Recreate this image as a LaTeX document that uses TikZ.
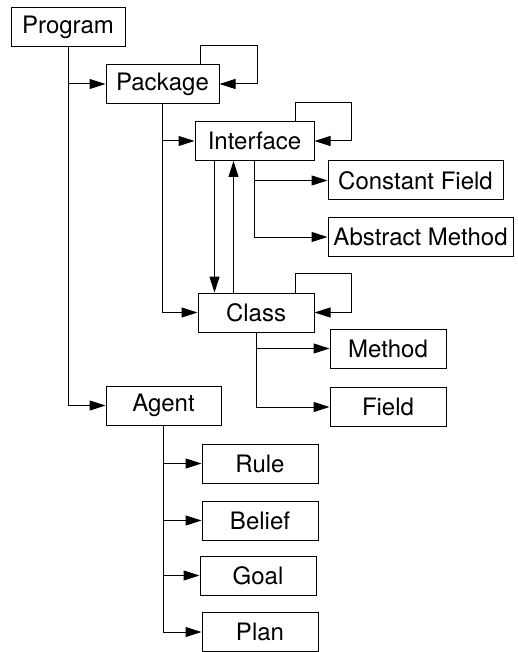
\documentclass[tikz,border=0pt]{standalone}
\usepackage{fontspec}
\setmainfont{TeX Gyre Heros}
\usetikzlibrary{arrows.meta}
\begin{document}
\begin{tikzpicture}[x=1pt,y=-1pt,
  box/.style={draw=black, line width=1pt, fill=white, inner sep=0pt,
    minimum height=39pt, font=\fontsize{24}{28}\selectfont},
  link/.style={draw=black, line width=1pt, -{Triangle[length=16pt,width=10pt]}}]
\useasboundingbox (0,0) rectangle (517,652);

% boxes
\node[box, minimum width=114pt] (prog)   at (68,27.5)   {Program};
\node[box, minimum width=113pt] (pkg)    at (162.5,84)  {Package};
\node[box, minimum width=119pt] (intf)   at (254.5,141) {Interface};
\node[box, minimum width=175pt] (cf)     at (415.5,180.5) {Constant Field};
\node[box, minimum width=185pt] (am)     at (420.5,237) {Abstract Method};
\node[box, minimum width=116pt] (cls)    at (256,312.5) {Class};
\node[box, minimum width=116pt] (meth)   at (388,348.5) {Method};
\node[box, minimum width=116pt] (fld)    at (388,407)   {Field};
\node[box, minimum width=115pt] (agent)  at (163.5,405.5) {Agent};
\node[box, minimum width=116pt] (rule)   at (260,463.5) {Rule};
\node[box, minimum width=116pt] (belief) at (260,520.5) {Belief};
\node[box, minimum width=116pt] (goal)   at (258,575.5) {Goal};
\node[box, minimum width=116pt] (plan)   at (260,632)   {Plan};

% Program tree
\draw[link] (prog.south) |- (agent.west);
\draw[link] (prog.south |- pkg.west) -- (pkg.west);

% Package tree and self reference
\draw[link] (pkg.south) |- (cls.west);
\draw[link] (pkg.south |- intf.west) -- (intf.west);
\draw[link] ([xshift=37.5pt]pkg.north) -- ++(0,-18) -- ++(57,0) |- (pkg.east);

% Interface tree and self reference
\draw[link] (intf.south) |- (am.west);
\draw[link] (intf.south |- cf.west) -- (cf.west);
\draw[link] ([xshift=40.5pt]intf.north) -- ++(0,-18) -- ++(56,0) |- (intf.east);

% Interface <-> Class
\draw[link] ([xshift=-40pt]intf.south) -- ([xshift=-40pt]intf.south |- cls.north);
\draw[link] ([xshift=-21pt]intf.south |- cls.north) -- ([xshift=-21pt]intf.south);

% Class tree and self reference
\draw[link] (cls.south) |- (fld.west);
\draw[link] (cls.south |- meth.west) -- (meth.west);
\draw[link] ([xshift=39pt]cls.north) -- ++(0,-19) -- ++(56,0) |- (cls.east);

% Agent tree
\draw[link] (agent.south) |- (plan.west);
\draw[link] (agent.south |- rule.west) -- (rule.west);
\draw[link] (agent.south |- belief.west) -- (belief.west);
\draw[link] (agent.south |- goal.west) -- (goal.west);
\end{tikzpicture}
\end{document}
